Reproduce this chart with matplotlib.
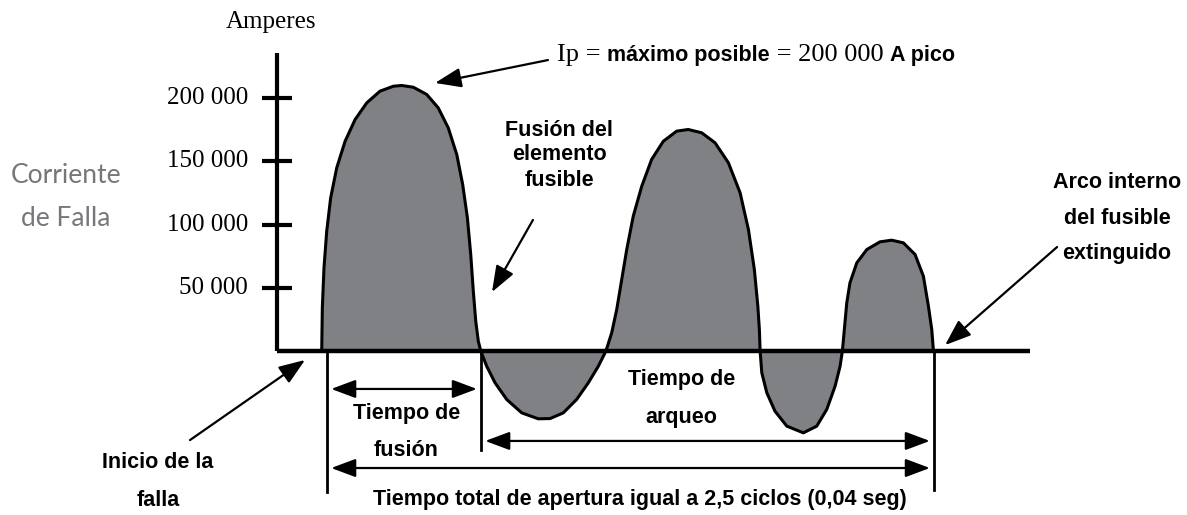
import matplotlib.pyplot as plt
import numpy as np
from matplotlib.offsetbox import TextArea, HPacker, AnnotationBbox

# waveform: time (ms from fault start), current (kA)
t_ms = [-0.35, -0.31, -0.20, -0.02, 0.24, 0.64, 1.19, 1.85, 2.62, 3.49, 4.37, 4.92, 5.69, 6.57, 7.33, 7.99,
        8.55, 8.94, 9.25, 9.47, 9.64, 9.80, 9.97, 10.13,
        10.52, 11.07, 11.84, 12.83, 13.92, 14.70, 15.57, 16.45, 17.22, 17.88, 18.38,
        18.76, 19.09, 19.42, 19.75, 20.18, 20.74, 21.39, 22.16, 23.04, 23.80, 24.69, 25.57, 26.45, 27.22,
        27.77, 28.16, 28.39, 28.49, 28.54,
        28.65, 28.98, 29.52, 30.30, 31.39, 32.27, 32.93, 33.48, 33.81, 33.96,
        34.09, 34.25, 34.46, 34.91, 35.57, 36.44, 37.21, 37.98, 38.75, 39.30, 39.63, 39.85, 39.96]
i_ka = [0.0, 34.1, 65.8, 94.7, 121.1, 144.8, 165.8, 183.0, 196.2, 205.4, 209.3, 209.9, 208.5, 202.8, 192.2, 176.4,
        155.3, 131.6, 105.3, 76.3, 47.3, 23.6, 7.7, 0.0,
        -12.0, -25.1, -38.3, -48.9, -53.6, -53.4, -48.9, -38.3, -25.1, -12.0, 0.0,
        14.4, 32.8, 56.5, 80.2, 106.6, 130.3, 151.4, 165.8, 173.8, 175.1, 172.5, 164.6, 148.8, 125.1,
        96.0, 64.4, 35.4, 17.0, 0.0,
        -17.2, -33.0, -47.6, -59.4, -64.7, -59.4, -46.2, -27.8, -12.0, 0.0,
        17.0, 38.1, 53.9, 69.7, 80.2, 86.3, 87.6, 85.5, 76.3, 59.1, 35.4, 17.0, 0.0]

tick_vals = [50000, 100000, 150000, 200000]
tick_labels = ["50 000", "100 000", "150 000", "200 000"]

# event times (ms): fault start, fuse melt, arc extinguished
t_start = 0.0
t_melt = 10.15
t_clear = 40.0

t = np.array(t_ms)
cur = np.array(i_ka) * 1000

serif = "Liberation Serif"
sans = "Liberation Sans"
fill_col = '#808184'

fig = plt.figure(figsize=(11.87, 5.15), dpi=100)
ax = fig.add_axes([0, 0, 1, 1])
ax.set_xlim(-21.55, 56.67)
ax.set_ylim(-129640, 277470)
ax.axis('off')

# current waveform
ax.fill_between(t, cur, 0, color=fill_col, linewidth=0)
ax.plot(t, cur, color='black', lw=2.2, solid_joinstyle='round')

# axes
ax.plot([-3.3, -3.3], [0, 235600], color='black', lw=3, solid_capstyle='butt')
ax.plot([-3.3, 46.33], [0, 0], color='black', lw=3.2, solid_capstyle='butt')
for v, lab in zip(tick_vals, tick_labels):
    ax.plot([-4.28, -2.3], [v, v], color='black', lw=3, solid_capstyle='butt')
    ax.text(-5.2, v, lab, ha='right', va='center', fontsize=18, family=serif)

# event markers
ax.plot([t_start, t_start], [0, -111500], color='black', lw=2)
ax.plot([t_melt, t_melt], [0, -78300], color='black', lw=2)
ax.plot([t_clear, t_clear], [0, -109900], color='black', lw=2)

dbl = dict(arrowstyle='<|-|>,head_length=0.75,head_width=0.28', color='black',
           lw=1.6, mutation_scale=20, shrinkA=3, shrinkB=3)
ax.annotate('', xy=(t_melt, -30000), xytext=(t_start, -30000), arrowprops=dbl)
ax.annotate('', xy=(t_clear, -71100), xytext=(t_melt, -71100), arrowprops=dbl)
ax.annotate('', xy=(t_clear, -92500), xytext=(t_start, -92500), arrowprops=dbl)

sgl = dict(arrowstyle='-|>,head_length=0.8,head_width=0.3', color='black',
           lw=1.6, mutation_scale=20, shrinkA=0, shrinkB=0)
ax.annotate('', xy=(7.12, 211900), xytext=(14.56, 230000), arrowprops=sgl)
ax.annotate('', xy=(10.87, 46600), xytext=(13.57, 103600), arrowprops=sgl)
ax.annotate('', xy=(40.73, 4700), xytext=(48.11, 82200), arrowprops=sgl)
ax.annotate('', xy=(-1.45, -7100), xytext=(-9.03, -70400), arrowprops=sgl)


def fpos(px, py):
    return px / 1187, 1 - py / 515


bold = dict(fontsize=15.5, fontweight='bold', family=sans, ha='center', va='center')

fig.text(*fpos(271, 22), "Amperes", fontsize=18, family=serif, ha='center', va='center')
fig.text(*fpos(66, 176), "Corriente", fontsize=19, family='Lato',
         color='#76777a', ha='center', va='center')
fig.text(*fpos(66, 218), "de Falla", fontsize=19, family='Lato',
         color='#76777a', ha='center', va='center')

for txt, (px, py) in [("Fusión del", (559, 130)), ("elemento", (559, 155)), ("fusible", (559, 181)),
                      ("Arco interno", (1117, 182)), ("del fusible", (1117, 219)), ("extinguido", (1117, 254)),
                      ("Inicio de la", (158, 463)), ("falla", (158, 500)),
                      ("Tiempo de", (407, 414)), ("fusión", (406, 451)),
                      ("Tiempo de", (682, 380)), ("arqueo", (681, 417)),
                      ("Tiempo total de apertura igual a 2,5 ciclos (0,04 seg)", (640, 500))]:
    fig.text(*fpos(px, py), txt, **bold)

# Ip line mixes serif and bold sans
sp = dict(fontsize=19, family=serif)
bp = dict(fontsize=15.5, fontweight='bold', family=sans)
parts = [TextArea("Ip = ", textprops=sp), TextArea("máximo posible", textprops=bp),
         TextArea(" = 200 000 ", textprops=sp), TextArea("A pico", textprops=bp)]
box = HPacker(children=parts, align='baseline', pad=0, sep=0)
ab = AnnotationBbox(box, fpos(557, 55), xycoords='figure fraction', box_alignment=(0, 0.5),
                    frameon=False, pad=0)
fig.add_artist(ab)

fig.savefig('out.png', dpi=100)
